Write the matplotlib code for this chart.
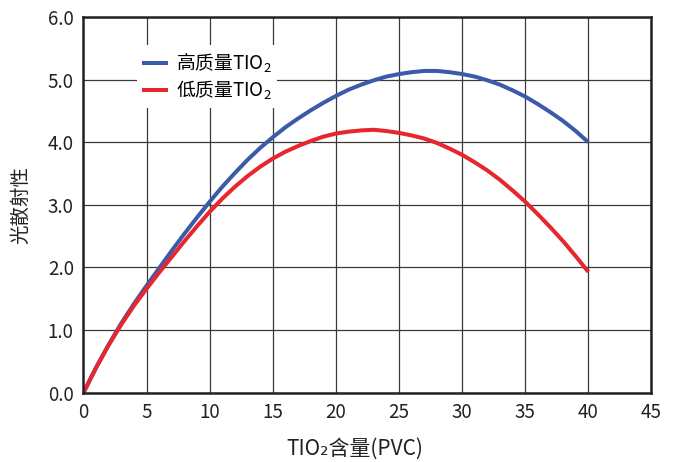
import matplotlib
matplotlib.use("Agg")
import matplotlib.pyplot as plt

plt.rcParams['font.family'] = ['Noto Sans CJK SC', 'DejaVu Sans']
plt.rcParams['mathtext.fontset'] = 'custom'
plt.rcParams['mathtext.rm'] = 'Noto Sans CJK SC'
plt.rcParams['mathtext.default'] = 'rm'

# PVC content (0..40)
pvc = list(range(0, 41))
# light scattering, high quality TiO2
high_q = [0.0, 0.40, 0.77, 1.11, 1.42, 1.71, 1.99, 2.27, 2.54, 2.80,
          3.05, 3.29, 3.51, 3.72, 3.91, 4.08, 4.24, 4.38, 4.51, 4.63,
          4.74, 4.84, 4.92, 4.99, 5.05, 5.09, 5.12, 5.14, 5.14, 5.12,
          5.09, 5.05, 4.99, 4.92, 4.83, 4.73, 4.61, 4.48, 4.34, 4.18, 4.0]
# light scattering, low quality TiO2
low_q = [0.0, 0.40, 0.76, 1.09, 1.39, 1.66, 1.92, 2.17, 2.42, 2.66,
         2.89, 3.10, 3.29, 3.46, 3.61, 3.74, 3.85, 3.94, 4.02, 4.09,
         4.14, 4.17, 4.19, 4.20, 4.18, 4.15, 4.11, 4.06, 3.99, 3.90,
         3.80, 3.68, 3.55, 3.40, 3.23, 3.05, 2.85, 2.64, 2.42, 2.18, 1.93]

xticks = [0, 5, 10, 15, 20, 25, 30, 35, 40, 45]
yticks = [0, 1, 2, 3, 4, 5, 6]

fig = plt.figure(figsize=(6.73, 4.62), dpi=100)
ax = fig.add_axes([0.124, 0.150, 0.844, 0.813])

ax.plot(pvc, high_q, color='#3b5ba9', lw=2.9, label='高质量TIO$_2$', solid_capstyle='butt')
ax.plot(pvc, low_q, color='#e8262d', lw=2.9, label='低质量TIO$_2$', solid_capstyle='butt')

ax.set_xlim(0, 45)
ax.set_ylim(0, 6)
ax.set_xticks(xticks)
ax.set_yticks(yticks)
ax.set_yticklabels(['%.1f' % v for v in yticks])
ax.tick_params(length=0, labelsize=13.5, pad=7, colors='#222222')
ax.grid(True, color='#3a3a3a', lw=0.9)
ax.set_axisbelow(True)
for s in ax.spines.values():
    s.set_linewidth(1.8)
    s.set_color('#222222')

ax.set_xlabel('TIO₂含量(PVC)', fontsize=15, labelpad=10, color='#222222')
ax.xaxis.label.set_x(0.477)
ax.set_ylabel('光散射性', fontsize=14, labelpad=12, color='#222222')

leg = ax.legend(loc='upper left', bbox_to_anchor=(0.077, 0.95), frameon=True,
                fancybox=False, edgecolor='none', framealpha=1, fontsize=13.5,
                handlelength=1.35, handletextpad=0.45, labelspacing=0.2, borderpad=0.3)

fig.savefig('out.png', dpi=100)
